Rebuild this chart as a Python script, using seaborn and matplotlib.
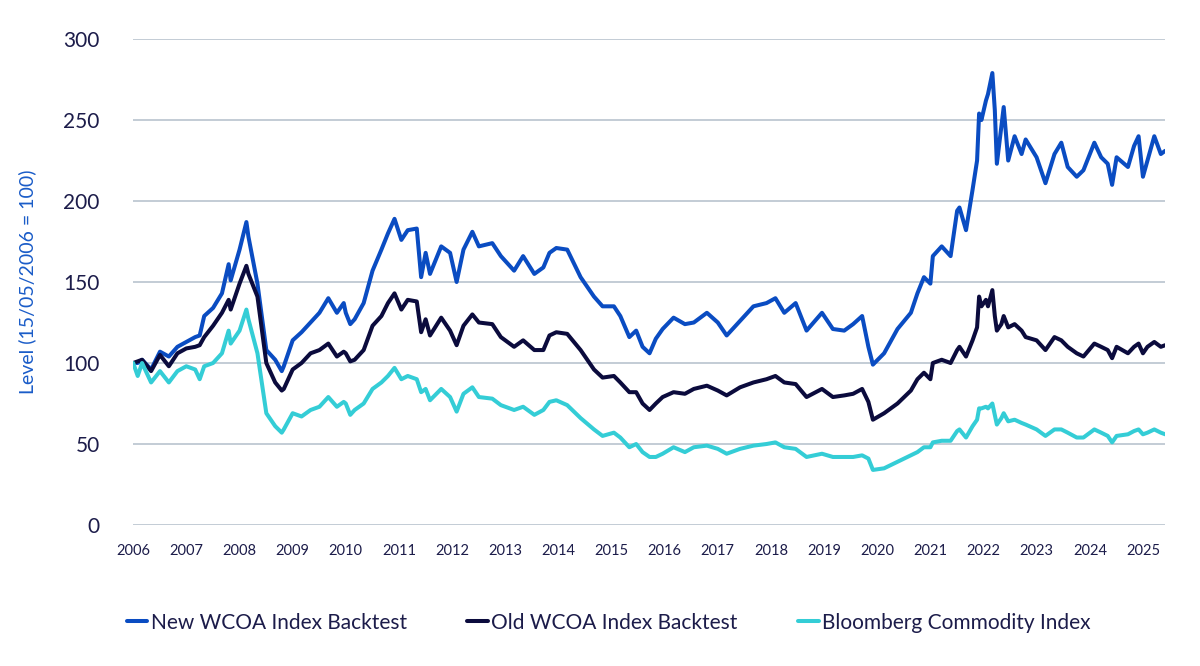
import pandas as pd
import matplotlib
matplotlib.use("Agg")
import matplotlib.pyplot as plt
import seaborn as sns

# ================================
# 数据
# ================================
dates = [
    "2006-05-15", "2006-06-15", "2006-07-15", "2006-09-15", "2006-11-15",
    "2007-01-15", "2007-03-15", "2007-05-15", "2007-07-15", "2007-08-15",
    "2007-09-15", "2007-11-15", "2008-01-15", "2008-03-01", "2008-03-15",
    "2008-05-15", "2008-07-01", "2008-07-15", "2008-09-15", "2008-11-15",
    "2009-01-15", "2009-03-01", "2009-03-15", "2009-05-15", "2009-07-15",
    "2009-09-15", "2009-11-15", "2010-01-15", "2010-03-15", "2010-05-01",
    "2010-05-15", "2010-06-15", "2010-07-15", "2010-09-15", "2010-11-15",
    "2011-01-15", "2011-03-01", "2011-04-15", "2011-06-01", "2011-07-15",
    "2011-09-15", "2011-10-15", "2011-11-15", "2011-12-15", "2012-03-01",
    "2012-05-01", "2012-06-15", "2012-08-01", "2012-10-01", "2012-11-15",
    "2013-02-15", "2013-04-15", "2013-07-15", "2013-09-15", "2013-12-01",
    "2014-02-01", "2014-03-15", "2014-05-01", "2014-07-15", "2014-10-15",
    "2015-01-15", "2015-03-15", "2015-06-01", "2015-07-15", "2015-09-15",
    "2015-11-01", "2015-12-15", "2016-02-01", "2016-03-15", "2016-05-01",
    "2016-07-15", "2016-10-01", "2016-12-01", "2017-03-01", "2017-05-15",
    "2017-07-15", "2017-10-15", "2018-01-15", "2018-04-15", "2018-06-15",
    "2018-08-15", "2018-11-01", "2019-01-15", "2019-05-01", "2019-07-15",
    "2019-10-01", "2019-12-01", "2020-02-01", "2020-03-15", "2020-04-15",
    "2020-07-01", "2020-10-01", "2021-01-01", "2021-02-15", "2021-04-01",
    "2021-05-15", "2021-06-01", "2021-08-01", "2021-10-01", "2021-11-15",
    "2021-12-01", "2022-01-15", "2022-03-01", "2022-04-01", "2022-04-15",
    "2022-05-01", "2022-06-01", "2022-06-15", "2022-07-15", "2022-08-01",
    "2022-08-15", "2022-09-15", "2022-10-01", "2022-11-01", "2022-12-15",
    "2023-02-01", "2023-03-01", "2023-05-15", "2023-07-15", "2023-09-15",
    "2023-11-01", "2023-12-15", "2024-02-15", "2024-04-01", "2024-06-15",
    "2024-08-01", "2024-09-15", "2024-10-15", "2024-11-15", "2025-02-01",
    "2025-03-15", "2025-04-15", "2025-05-15", "2025-06-15", "2025-08-01",
    "2025-09-15", "2025-10-15",
]

new_wcoa = [
    100, 100, 102, 96, 107, 104, 110, 113, 116, 117,
    129, 134, 143, 161, 151, 170, 187, 178, 149, 108,
    102, 95, 98, 114, 119, 125, 131, 140, 131, 137,
    131, 124, 127, 137, 157, 170, 180, 189, 176, 182,
    183, 153, 168, 155, 172, 168, 150, 170, 181, 172,
    174, 166, 157, 166, 155, 159, 168, 171, 170, 153,
    141, 135, 135, 129, 116, 120, 110, 106, 115, 121,
    128, 124, 125, 131, 125, 117, 126, 135, 137, 140,
    131, 137, 120, 131, 121, 120, 124, 129, 110, 99,
    106, 121, 131, 143, 153, 149, 166, 172, 166, 194,
    196, 182, 207, 225, 254, 250, 262, 266, 279, 256,
    223, 246, 258, 225, 240, 229, 238, 227, 211, 229,
    236, 221, 215, 219, 236, 227, 223, 210, 227, 221,
    234, 240, 215, 225, 240, 229, 231,
]

old_wcoa = [
    100, 101, 102, 95, 105, 98, 106, 109, 110, 111,
    116, 123, 131, 139, 133, 149, 160, 155, 141, 100,
    88, 83, 84, 96, 100, 106, 108, 112, 104, 107,
    106, 101, 102, 108, 123, 129, 137, 143, 133, 139,
    138, 119, 127, 117, 128, 120, 111, 123, 130, 125,
    124, 116, 110, 114, 108, 108, 117, 119, 118, 108,
    96, 91, 92, 88, 82, 82, 75, 71, 75, 79,
    82, 81, 84, 86, 83, 80, 85, 88, 90, 92,
    88, 87, 79, 84, 79, 80, 81, 84, 76, 65,
    69, 75, 83, 90, 94, 90, 100, 102, 100, 108,
    110, 104, 114, 122, 141, 135, 139, 135, 145, 129,
    120, 124, 129, 122, 124, 120, 116, 114, 108, 116,
    114, 110, 106, 104, 112, 110, 108, 103, 110, 106,
    110, 112, 106, 110, 113, 110, 111,
]

bcom = [
    100, 92, 100, 88, 95, 88, 95, 98, 96, 90,
    98, 100, 106, 120, 112, 120, 133, 127, 106, 69,
    61, 57, 59, 69, 67, 71, 73, 79, 73, 76,
    75, 68, 71, 75, 84, 88, 92, 97, 90, 92,
    90, 82, 84, 77, 84, 79, 70, 81, 85, 79,
    78, 74, 71, 73, 68, 71, 76, 77, 74, 66,
    59, 55, 57, 54, 48, 50, 45, 42, 42, 44,
    48, 45, 48, 49, 47, 44, 47, 49, 50, 51,
    48, 47, 42, 44, 42, 42, 42, 43, 41, 34,
    35, 39, 43, 45, 48, 48, 51, 52, 52, 58,
    59, 54, 61, 65, 72, 72, 73, 72, 75, 68,
    62, 66, 69, 64, 65, 63, 62, 59, 55, 59,
    59, 57, 54, 54, 59, 57, 55, 51, 55, 56,
    58, 59, 56, 57, 59, 57, 56,
]

series_names = ["New WCOA Index Backtest", "Old WCOA Index Backtest",
                "Bloomberg Commodity Index"]
series_colors = ["#0a4cc2", "#0b0b3d", "#34cdd6"]
year_labels = list(range(2006, 2026))

# ================================
# 整理数据
# ================================
df = pd.DataFrame({
    "date": pd.to_datetime(dates),
    series_names[0]: new_wcoa,
    series_names[1]: old_wcoa,
    series_names[2]: bcom,
})
long_df = df.melt(id_vars="date", var_name="series", value_name="level")

# ================================
# 绘图
# ================================
sns.set_theme(style="white")
plt.rcParams["font.family"] = ["Lato", "DejaVu Sans"]

text_color = "#1c1c4a"
fig, ax = plt.subplots(figsize=(12, 6.66), dpi=100)
fig.subplots_adjust(left=0.111, right=0.971, top=0.9414, bottom=0.2117)

sns.lineplot(data=long_df, x="date", y="level", hue="series",
             hue_order=series_names, palette=series_colors,
             linewidth=2.9, ax=ax, legend=True)

# 坐标轴范围与刻度
ax.set_ylim(0, 300)
ax.set_yticks(range(0, 301, 50))
ax.set_xlim(pd.Timestamp("2006-05-15"), pd.Timestamp("2025-10-15"))
ax.set_xticks([pd.Timestamp(f"{y}-05-15") for y in year_labels])
ax.set_xticklabels([str(y) for y in year_labels])

ax.tick_params(axis="x", labelsize=10.5, colors=text_color, length=0, pad=14)
ax.tick_params(axis="y", labelsize=15, colors=text_color, length=0, pad=24)
ax.set_xlabel("")
ax.set_ylabel("Level (15/05/2006 = 100)", fontsize=14, color="#1a5cc8",
              labelpad=20)

# 网格线 & 边框
ax.yaxis.grid(True, color="#c3ccd5", linewidth=1.4)
ax.xaxis.grid(False)
ax.set_axisbelow(True)
for side in ["top", "right", "left", "bottom"]:
    ax.spines[side].set_visible(False)

# 图例（底部居中）
handles, labels = ax.get_legend_handles_labels()
ax.get_legend().remove()
leg = fig.legend(handles, labels, loc="center", bbox_to_anchor=(0.507, 0.065),
                 ncol=3, frameon=False, fontsize=15, handlelength=1.0,
                 handletextpad=0.15, columnspacing=2.9)
for t in leg.get_texts():
    t.set_color(text_color)

plt.savefig("out.png", dpi=100)
